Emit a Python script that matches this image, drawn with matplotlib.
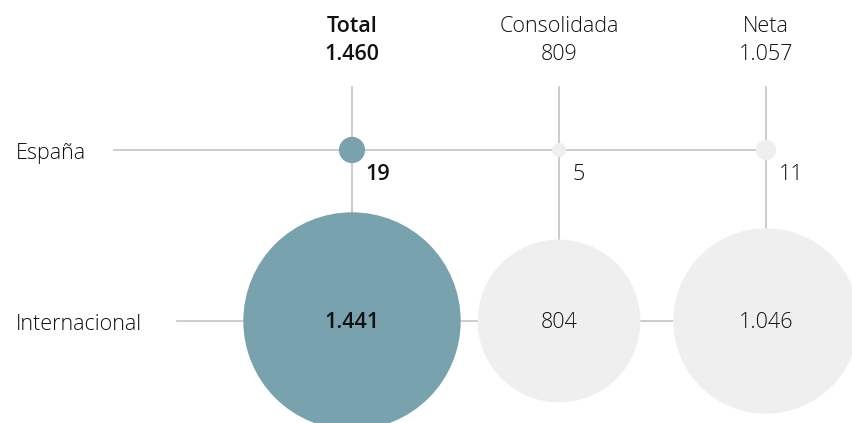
import numpy as np
import matplotlib.pyplot as plt
from matplotlib.patches import Circle

# datos
columnas = ['Total', 'Consolidada', 'Neta']
totales = ['1.460', '809', '1.057']
filas = ['España', 'Internacional']
espana = [19, 5, 11]
internacional = [1441, 804, 1046]

def fmt(v):
    return f'{v:,}'.replace(',', '.')

plt.rcParams['font.family'] = ['Open Sans', 'DejaVu Sans']

fig = plt.figure(figsize=(8.52, 4.23), dpi=100)
ax = fig.add_axes([0, 0, 1, 1])
ax.set_xlim(0, 852)
ax.set_ylim(423, 0)
ax.axis('off')

teal = '#77a2ae'
gris = '#efefef'
linea = '#c9c9c9'
txt = '#111111'
fs = 15.5

xs = 352 + 207 * np.arange(len(columnas))
ys = [150, 321]
k = 108 / np.sqrt(max(internacional))

# lineas
for x in xs:
    ax.plot([x, x], [87, ys[1]], color=linea, lw=1.3, zorder=1)
ax.plot([114, xs[-1]], [ys[0], ys[0]], color=linea, lw=1.3, zorder=1)
ax.plot([177, xs[-1]], [ys[1], ys[1]], color=linea, lw=1.3, zorder=1)

# cabeceras
for i, (c, t) in enumerate(zip(columnas, totales)):
    w = 'semibold' if i == 0 else 'light'
    ax.text(xs[i], 26, c, ha='center', va='center', fontsize=fs, color=txt, fontweight=w)
    ax.text(xs[i], 55, t, ha='center', va='center', fontsize=fs, color=txt, fontweight=w)

for f, y in zip(filas, ys):
    ax.text(16, y + 3, f, ha='left', va='center', fontsize=fs, color=txt, fontweight='light')

for i, x in enumerate(xs):
    col = teal if i == 0 else gris
    w = 'semibold' if i == 0 else 'light'
    r1 = k * np.sqrt(espana[i])
    ax.add_patch(Circle((x, ys[0]), r1, color=col, zorder=2))
    ax.text(x + 13, ys[0] + 24, fmt(espana[i]), ha='left', va='center',
            fontsize=fs, color=txt, fontweight=w)
    r2 = k * np.sqrt(internacional[i])
    ax.add_patch(Circle((x, ys[1]), r2, color=col, zorder=2))
    ax.text(x, ys[1] + 2, fmt(internacional[i]), ha='center', va='center',
            fontsize=fs, color=txt, fontweight=w, zorder=3)

fig.savefig('out.png', dpi=100)
